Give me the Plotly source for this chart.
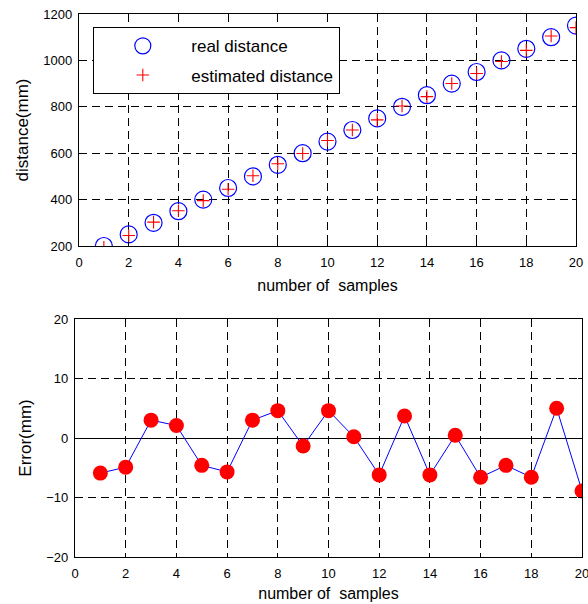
import plotly.graph_objects as go

samples = [1, 2, 3, 4, 5, 6, 7, 8, 9, 10, 11, 12, 13, 14, 15, 16, 17, 18, 19, 20]
real_distance = [200, 250, 300, 350, 400, 450, 500, 550, 600, 650,
                 700, 750, 800, 850, 900, 950, 1000, 1050, 1100, 1150]
estimated_distance = [194.1, 245.1, 303.0, 352.1, 395.4, 444.3, 503.0, 554.6, 598.7, 654.6,
                      700.2, 743.8, 803.7, 843.8, 900.5, 943.4, 995.4, 1043.4, 1105.0, 1141.1]
error_mm = [-5.9, -4.9, 3.0, 2.1, -4.6, -5.7, 3.0, 4.6, -1.35, 4.6,
            0.2, -6.2, 3.7, -6.2, 0.45, -6.6, -4.6, -6.6, 5.0, -8.9]

x_ticks = [0, 2, 4, 6, 8, 10, 12, 14, 16, 18, 20]
top_y_ticks = [200, 400, 600, 800, 1000, 1200]
bottom_y_ticks = [-20, -10, 0, 10, 20]

FONT = "Liberation Sans, Arial, sans-serif"
W, H = 588, 604

fig = go.Figure()

fig.add_trace(go.Scatter(
    x=samples, y=real_distance, mode="markers", name="real distance",
    marker=dict(symbol="circle-open", size=17, color="#0000ff", line=dict(width=1.2, color="#0000ff")),
    xaxis="x", yaxis="y", legendgroup="a"))
fig.add_trace(go.Scatter(
    x=samples, y=estimated_distance, mode="markers", name="estimated distance",
    marker=dict(symbol="cross-thin-open", size=9, color="#ff0000", line=dict(width=1.1, color="#ff0000")),
    xaxis="x", yaxis="y", legendgroup="b"))
fig.add_trace(go.Scatter(
    x=samples, y=error_mm, mode="lines+markers", name="error",
    line=dict(color="#0000ff", width=1),
    marker=dict(symbol="circle", size=15, color="#ff0000"),
    xaxis="x2", yaxis="y2", showlegend=False))

common_axis = dict(
    showline=True, linecolor="black", linewidth=1.3, mirror="ticks",
    ticks="inside", ticklen=4, tickcolor="black",
    showgrid=True, gridcolor="black", gridwidth=1, griddash="8px,5px",
    zeroline=False, tickfont=dict(family=FONT, size=13, color="black"),
    automargin=False, ticklabeloverflow="allow",
)

def px_x(a, b):
    return [a / W, b / W]

def px_y(top, bottom):
    return [1 - bottom / H, 1 - top / H]

fig.update_layout(
    width=W, height=H,
    margin=dict(l=0, r=0, t=0, b=0),
    paper_bgcolor="white", plot_bgcolor="white",
    font=dict(family=FONT, color="black"),
    xaxis=dict(common_axis, domain=px_x(79, 576), range=[0, 20], tickvals=x_ticks,
               anchor="y", ticklabelstandoff=4,
               title=dict(text="number of\u00a0 samples", font=dict(size=16), standoff=11)),
    yaxis=dict(common_axis, domain=px_y(14, 246), range=[200, 1200], tickvals=top_y_ticks,
               anchor="x", ticklabelstandoff=3,
               title=dict(text="distance(mm)", font=dict(size=17), standoff=10)),
    xaxis2=dict(common_axis, domain=px_x(75, 582), range=[0, 20], tickvals=x_ticks,
                anchor="y2", ticklabelstandoff=4,
                title=dict(text="number of\u00a0 samples", font=dict(size=16), standoff=8)),
    yaxis2=dict(common_axis, domain=px_y(319, 557), range=[-20, 20], tickvals=bottom_y_ticks,
                anchor="x2", ticklabelstandoff=3, zeroline=True, zerolinecolor="black", zerolinewidth=1,
                title=dict(text="Error(mm)", font=dict(size=17), standoff=10)),
    legend=dict(
        x=93 / W, y=1 - 27 / H, xanchor="left", yanchor="top",
        bgcolor="white", bordercolor="black", borderwidth=1.3,
        font=dict(family=FONT, size=17, color="black"),
        itemwidth=87, tracegroupgap=4,
    ),
    showlegend=True,
)

fig.write_html("out.html")
